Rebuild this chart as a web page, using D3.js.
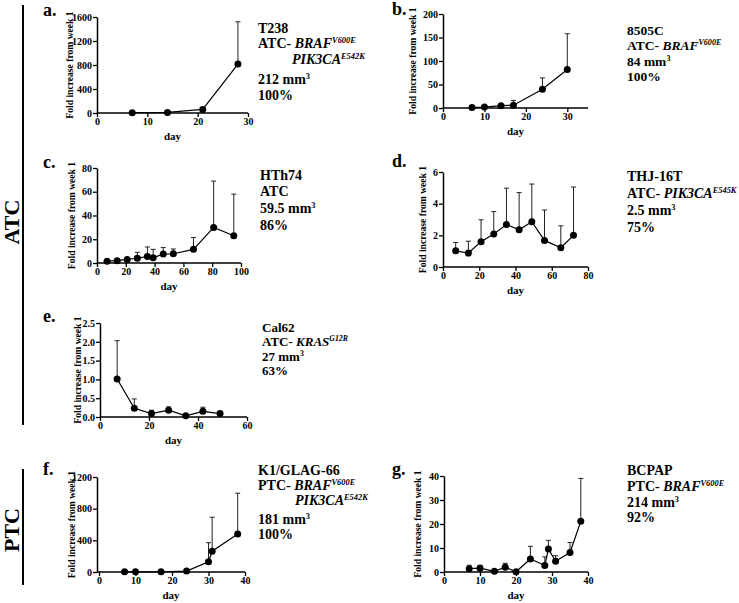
<!DOCTYPE html>
<html><head><meta charset="utf-8">
<script src="https://cdn.jsdelivr.net/npm/d3@7"></script>
<style>
body{margin:0;background:#fff}
svg{display:block}
text{font-family:"Liberation Serif","Times New Roman",serif;font-weight:bold;fill:#000}
</style>
</head><body>
<svg id="chart" width="739" height="603"></svg>
<script>
// ---------------- DATA ----------------
// a. T238
const aDays=[7,14,21,28];
const aMean=[5,10,60,815];
const aSD=[0,0,0,705];
const aXTicks=[0,10,20,30];
const aYTicks=[0,400,800,1200,1600];
const aInfo=[[["T238"]],[["ATC- "],["BRAF","i"],["V600E","s"]],[["PIK3CA","i"],["E542K","s"]],[["212 mm"],["3","s"]],[["100%"]]];
// b. 8505C
const bDays=[7,10,14,17,24,30];
const bMean=[1,2,5,6,40,82];
const bSD=[0,1,2,10,24,76];
const bXTicks=[0,10,20,30];
const bYTicks=[0,50,100,150,200];
const bInfo=[[["8505C"]],[["ATC- "],["BRAF","i"],["V600E","s"]],[["84 mm"],["3","s"]],[["100%"]]];
// c. HTh74
const cDays=[7,14,21,28,35,39,46,53,67,81,95];
const cMean=[1.5,2,3,4,5.5,4.5,7.5,7.8,11.5,30,23];
const cSD=[1,1,1.5,5,8,7,5.5,4,10,39,35];
const cXTicks=[0,20,40,60,80,100];
const cYTicks=[0,20,40,60,80];
const cInfo=[[["HTh74"]],[["ATC"]],[["59.5 mm"],["3","s"]],[["86%"]]];
// d. THJ-16T
const dDays=[7,14,21,28,35,42,49,56,65,72];
const dMean=[1.02,0.88,1.6,2.08,2.68,2.35,2.86,1.68,1.22,2.0];
const dSD=[0.53,0.75,1.38,1.42,2.3,2.35,2.38,1.92,1.38,3.05];
const dXTicks=[0,20,40,60,80];
const dYTicks=[0,2,4,6];
const dInfo=[[["THJ-16T"]],[["ATC- "],["PIK3CA","i"],["E545K","s"]],[["2.5 mm"],["3","s"]],[["75%"]]];
// e. Cal62
const eDays=[7,14,21,28,35,42,49];
const eMean=[1.01,0.23,0.09,0.18,0.03,0.15,0.09];
const eSD=[1.02,0.25,0.09,0.09,0.01,0.11,0.03];
const eXTicks=[0,20,40,60];
const eYTicks=[0,0.5,1.0,1.5,2.0,2.5];
const eInfo=[[["Cal62"]],[["ATC- "],["KRAS","i"],["G12R","s"]],[["27 mm"],["3","s"]],[["63%"]]];
// f. K1/GLAG-66
const fDays=[7,10,17,24,30,31,38];
const fMean=[2,2,3,12,130,262,480];
const fSD=[0,0,0,5,240,430,515];
const fXTicks=[0,10,20,30,40];
const fYTicks=[0,400,800,1200];
const fInfo=[[["K1/GLAG-66"]],[["PTC- "],["BRAF","i"],["V600E","s"]],[["PIK3CA","i"],["E542K","s"]],[["181 mm"],["3","s"]],[["100%"]]];
// g. BCPAP
const gDays=[7,10,14,17,20,24,28,29,31,35,38];
const gMean=[1.4,1.6,0.3,2.0,0.1,5.4,2.7,9.6,4.5,8.1,21.1];
const gSD=[1.4,1.2,0,1.6,0,5.3,3.6,3.6,2.3,4.2,17.9];
const gXTicks=[0,10,20,30,40];
const gYTicks=[0,10,20,30,40];
const gInfo=[[["BCPAP"]],[["PTC- "],["BRAF","i"],["V600E","s"]],[["214 mm"],["3","s"]],[["92%"]]];

const groupLabels=["ATC","PTC"];
const yTitle="Fold increase from week 1";
const xTitle="day";

// ---------------- LAYOUT ----------------
const panels=[
 {lab:"a.",days:aDays,mean:aMean,sd:aSD,xt:aXTicks,yt:aYTicks,info:aInfo,
  L:{ax:97,x0:97,x1:248,yb:113,ytop:17,xd:[0,30],yd:[0,1600],tx:70,lx:43,ly:16,ix:[258,258,292,258,258],iy:[33,48,64,84,100],fs:14}},
 {lab:"b.",days:bDays,mean:bMean,sd:bSD,xt:bXTicks,yt:bYTicks,info:bInfo,
  L:{ax:443,x0:443,x1:588,yb:108,ytop:14,xd:[0,35],yd:[0,200],tx:413,lx:392,ly:15,ix:[627],iy:[35,50,66,81],fs:13.5}},
 {lab:"c.",days:cDays,mean:cMean,sd:cSD,xt:cXTicks,yt:cYTicks,info:cInfo,
  L:{ax:97,x0:97,x1:241,yb:263,ytop:168,xd:[0,100],yd:[0,80],tx:72,lx:43,ly:168,ix:[260],iy:[180,196,213,230],fs:14}},
 {lab:"d.",days:dDays,mean:dMean,sd:dSD,xt:dXTicks,yt:dYTicks,info:dInfo,
  L:{ax:443,x0:443,x1:588,yb:267,ytop:172,xd:[0,80],yd:[0,6],tx:423,lx:392,ly:167,ix:[627],iy:[181,198,215,232],fs:14}},
 {lab:"e.",days:eDays,mean:eMean,sd:eSD,xt:eXTicks,yt:eYTicks,info:eInfo,fmt:".1f",
  L:{ax:100,x0:100,x1:247,yb:417,ytop:323,xd:[0,60],yd:[0,2.5],tx:78,lx:43,ly:322,ix:[262],iy:[332,346,361,375],fs:13}},
 {lab:"f.",days:fDays,mean:fMean,sd:fSD,xt:fXTicks,yt:fYTicks,info:fInfo,
  L:{ax:97,x0:99,x1:245,yb:572,ytop:477,xd:[0,40],yd:[0,1200],tx:72,lx:43,ly:475,ix:[258,258,295,258,258],iy:[475,490,505,524,539],fs:14}},
 {lab:"g.",days:gDays,mean:gMean,sd:gSD,xt:gXTicks,yt:gYTicks,info:gInfo,
  L:{ax:444,x0:444,x1:588,yb:572,ytop:476,xd:[0,40],yd:[0,40],tx:418,lx:392,ly:475,ix:[627],iy:[475,491,507,522],fs:14}}
];

const svg=d3.select("#chart");

// group brackets
svg.append("line").attr("x1",23).attr("x2",23).attr("y1",5).attr("y2",425).attr("stroke","#000").attr("stroke-width",2);
svg.append("text").attr("transform","translate(19,222) rotate(-90)").attr("text-anchor","middle").attr("font-size",22).text(groupLabels[0]);
svg.append("line").attr("x1",23).attr("x2",23).attr("y1",469).attr("y2",585).attr("stroke","#000").attr("stroke-width",2);
svg.append("text").attr("transform","translate(19,530) rotate(-90)").attr("text-anchor","middle").attr("font-size",22).text(groupLabels[1]);

function draw(p){
  const L=p.L;
  const x=d3.scaleLinear().domain(L.xd).range([L.x0,L.x1]);
  const y=d3.scaleLinear().domain(L.yd).range([L.yb,L.ytop]);
  const g=svg.append("g");
  const xa=g.append("g").attr("transform",`translate(0,${L.yb})`)
    .call(d3.axisBottom(x).tickValues(p.xt).tickSize(4).tickSizeOuter(0).tickPadding(1).tickFormat(d3.format("d")));
  xa.select(".domain").attr("d",`M${L.ax},0H${L.x1}`);
  g.append("g").attr("transform",`translate(${L.ax},0)`)
    .call(d3.axisLeft(y).tickValues(p.yt).tickSize(4).tickSizeOuter(0).tickPadding(1).tickFormat(d3.format(p.fmt||"d")));
  g.selectAll(".domain").attr("stroke","#000").attr("stroke-width",1.5);
  g.selectAll(".tick line").attr("stroke","#000").attr("stroke-width",1.3);
  g.selectAll(".tick text").attr("font-size",10).attr("font-family","Liberation Serif").attr("font-weight","bold").attr("fill","#000");
  g.append("text").attr("x",(L.ax+L.x1)/2).attr("y",L.yb+27).attr("text-anchor","middle").attr("font-size",11).text(xTitle);
  g.append("text").attr("transform",`translate(${L.tx},${(L.yb+L.ytop)/2}) rotate(-90)`).attr("text-anchor","middle").attr("dy","0.35em").attr("font-size",9.6).text(yTitle);
  g.append("text").attr("x",L.lx).attr("y",L.ly).attr("font-size",18).text(p.lab);
  p.days.forEach((d,i)=>{
    if(p.sd[i]>0){
      const cx=x(d), y1=y(p.mean[i]), y2=y(p.mean[i]+p.sd[i]);
      g.append("line").attr("x1",cx).attr("x2",cx).attr("y1",y1).attr("y2",y2).attr("stroke","#222").attr("stroke-width",1);
      g.append("line").attr("x1",cx-2.5).attr("x2",cx+2.5).attr("y1",y2).attr("y2",y2).attr("stroke","#222").attr("stroke-width",1);
    }
  });
  const line=d3.line().x(d=>x(d)).y((d,i)=>y(p.mean[i]));
  g.append("path").attr("d",line(p.days)).attr("fill","none").attr("stroke","#000").attr("stroke-width",1.2);
  g.selectAll("circle.pt").data(p.days).enter().append("circle").attr("class","pt")
    .attr("cx",d=>x(d)).attr("cy",(d,i)=>y(p.mean[i])).attr("r",3.5).attr("fill","#000");
  p.info.forEach((segs,li)=>{
    const t=g.append("text").attr("x",L.ix[li]!==undefined?L.ix[li]:L.ix[0]).attr("y",L.iy[li]).attr("font-size",L.fs);
    let sup=false;
    segs.forEach(s=>{
      const ts=t.append("tspan").text(s[0]);
      if(s[1]==="i") ts.attr("font-style","italic");
      if(s[1]==="s"){ts.attr("font-size",L.fs*0.6).attr("dy",-L.fs*0.36).attr("font-style",s[0]==="3"?"normal":"italic");sup=true;}
      else if(sup){ts.attr("dy",L.fs*0.36);sup=false;}
    });
  });
}
panels.forEach(draw);
</script>
</body></html>
